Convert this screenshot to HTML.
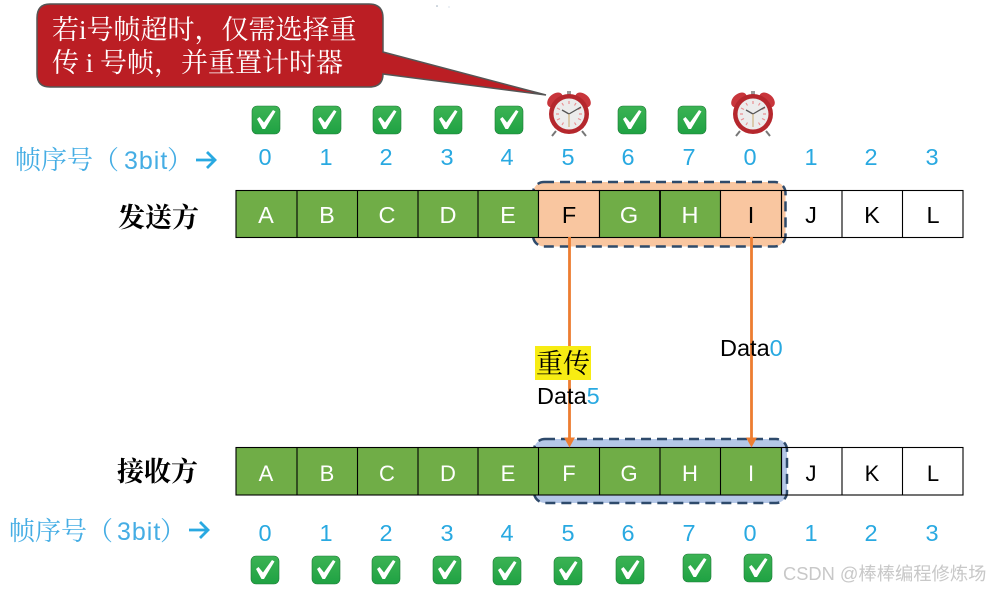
<!DOCTYPE html>
<html><head><meta charset="utf-8">
<style>
html,body{margin:0;padding:0;background:#fff;width:990px;height:591px;overflow:hidden}
svg{display:block}
.n{font:23.500px "Liberation Sans",sans-serif;fill:#29a9e1;text-anchor:middle}
.c{font:23.500px "Liberation Sans",sans-serif;text-anchor:middle}
.b{font:22px "Liberation Sans",sans-serif;text-anchor:middle}
.s{font-family:"Liberation Serif","Noto Serif CJK SC",serif}
.lb{font-size:26px;fill:#45ade4}
.d{font:23.500px "Liberation Sans",sans-serif;fill:#000}
</style></head><body>
<svg width="990" height="591" viewBox="0 0 990 591" xmlns="http://www.w3.org/2000/svg">
<defs>
<linearGradient id="gg" x1="0" y1="0" x2="0" y2="1"><stop offset="0" stop-color="#3cb354"/><stop offset="1" stop-color="#1fa243"/></linearGradient>
<g id="ck">
<rect x="-14" y="-14" width="28" height="28" rx="5" fill="url(#gg)" stroke="#1f7a38" stroke-width=".6"/>
<path d="M-9,-1 L-6.500,-3 L-2,2.500 L7,-10 L9.500,-8.500 L-1,9 L-3.500,9 Z" fill="#fff"/>
</g>
<g id="cl">
<path d="M-13,17 L-17,22 M13,17 L17,22" stroke="#777" stroke-width="2"/>
<ellipse cx="-14" cy="-14" rx="9" ry="6" transform="rotate(-42 -14 -14)" fill="#c8353b"/>
<ellipse cx="14" cy="-14" rx="9" ry="6" transform="rotate(42 14 -14)" fill="#c8353b"/>
<rect x="-2" y="-23" width="4" height="4" fill="#999"/>
<circle r="20" fill="#b5272d"/>
<circle r="15.500" fill="#ececec"/>
<path d="M0,-13 V-10 M7,-11 L5.500,-8.500 M12,-6 L9,-4.500 M13,0 H10 M12,6 L9,4.500 M7,11 L5.500,8.500 M-7,11 L-5.500,8.500 M-12,6 L-9,4.500 M-13,0 H-10 M-12,-6 L-9,-4.500 M-7,-11 L-5.500,-8.500" stroke="#ea9093" stroke-width="1.200"/>
<path d="M0,0 L12,-7 M0,0 L-7,-4" stroke="#555" stroke-width="1.300" fill="none"/>
<path d="M0,0 V13" stroke="#c9a86a" stroke-width="1"/>
</g>
</defs>

<circle cx="437" cy="6" r=".8" fill="#9ab"/><circle cx="449" cy="7" r=".6" fill="#bcd"/>

<!-- callout -->
<path d="M50,4 H369 Q383,4 383,18 V52 L546,95 L383,74 Q383,87 369,87 H50 Q37,87 37,74 V18 Q37,4 50,4 Z" fill="#bb1e24" stroke="#555" stroke-width="1.500"/>
<text class="s" x="52" y="39" font-size="27" fill="#fff">若i号帧超时，仅需选择重</text>
<text class="s" x="52" y="72" font-size="27" fill="#fff" xml:space="preserve">传 i 号帧，并重置计时器</text>

<!-- top status icons -->
<use href="#ck" x="266" y="120"/><use href="#ck" x="327" y="120"/><use href="#ck" x="387" y="120"/><use href="#ck" x="448" y="120"/><use href="#ck" x="509" y="120"/>
<use href="#cl" x="569" y="114"/>
<use href="#ck" x="632" y="120"/><use href="#ck" x="692" y="120"/>
<use href="#cl" x="753" y="114"/>

<!-- top numbers -->
<text class="n" x="265" y="165">0</text><text class="n" x="326" y="165">1</text><text class="n" x="386" y="165">2</text><text class="n" x="447" y="165">3</text><text class="n" x="507" y="165">4</text><text class="n" x="568" y="165">5</text><text class="n" x="628" y="165">6</text><text class="n" x="689" y="165">7</text><text class="n" x="750" y="165">0</text><text class="n" x="811" y="165">1</text><text class="n" x="871" y="165">2</text><text class="n" x="932" y="165">3</text>

<text class="s lb" x="15" y="169">帧序号（<tspan x="124" font-family="Liberation Sans" font-size="25" letter-spacing="1">3bit</tspan><tspan x="167">）</tspan></text>
<path d="M196,160 H215 M207,152 L215,160 L207,168" fill="none" stroke="#29a9e1" stroke-width="2.800"/>
<text class="s lb" x="9" y="540">帧序号（<tspan x="117" font-family="Liberation Sans" font-size="25" letter-spacing="1">3bit</tspan><tspan x="160">）</tspan></text>
<path d="M189,530 H208 M200,522 L208,530 L200,538" fill="none" stroke="#29a9e1" stroke-width="2.800"/>

<text class="s" x="118" y="227" font-size="27" font-weight="bold" fill="#000">发送方</text>
<text class="s" x="117" y="481" font-size="27" font-weight="bold" fill="#000">接收方</text>

<!-- top row -->
<rect x="533" y="182" width="252.500" height="64.500" rx="11" fill="#f9c6a0" stroke="#2e4a6b" stroke-width="2.500" stroke-dasharray="10 6"/>
<g stroke="#000" stroke-width="1.100">
<rect x="236" y="190.500" width="302.500" height="47" fill="#70ad47"/>
<rect x="538.500" y="190.500" width="61" height="47" fill="#f9c6a0"/>
<rect x="599.500" y="190.500" width="121" height="47" fill="#70ad47"/>
<rect x="720.500" y="190.500" width="61" height="47" fill="#f9c6a0"/>
<rect x="781.500" y="190.500" width="181.500" height="47" fill="none"/>
<path d="M297,190.500 V237.500 M357.500,190.500 V237.500 M418,190.500 V237.500 M478,190.500 V237.500 M842,190.500 V237.500 M902.500,190.500 V237.500" fill="none"/>
<path d="M660,190.500 V237.500" stroke-width="1.800"/>
</g>
<text class="c" x="266" y="223" fill="#fff">A</text><text class="c" x="327" y="223" fill="#fff">B</text><text class="c" x="387" y="223" fill="#fff">C</text><text class="c" x="448" y="223" fill="#fff">D</text><text class="c" x="508" y="223" fill="#fff">E</text><text class="c" x="569" y="223" fill="#000">F</text><text class="c" x="629" y="223" fill="#fff">G</text><text class="c" x="690" y="223" fill="#fff">H</text><text class="c" x="751" y="223" fill="#000">I</text><text class="c" x="811" y="223" fill="#000">J</text><text class="c" x="872" y="223" fill="#000">K</text><text class="c" x="933" y="223" fill="#000">L</text>

<!-- bottom row -->
<rect x="534" y="439" width="253" height="64" rx="11" fill="#b4c7e7" stroke="#2e4a6b" stroke-width="2.500" stroke-dasharray="10 6"/>
<g stroke="#000" stroke-width="1.100">
<rect x="236" y="447.500" width="545.500" height="47.500" fill="#70ad47"/>
<rect x="781.500" y="447.500" width="181.500" height="47.500" fill="none"/>
<path d="M297,447.500 V495 M357.500,447.500 V495 M418,447.500 V495 M478,447.500 V495 M538.500,447.500 V495 M599.500,447.500 V495 M660,447.500 V495 M720.500,447.500 V495 M842,447.500 V495 M902.500,447.500 V495" fill="none"/>
</g>
<text class="b" x="266" y="481" fill="#fff">A</text><text class="b" x="327" y="481" fill="#fff">B</text><text class="b" x="387" y="481" fill="#fff">C</text><text class="b" x="448" y="481" fill="#fff">D</text><text class="b" x="508" y="481" fill="#fff">E</text><text class="b" x="569" y="481" fill="#fff">F</text><text class="b" x="629" y="481" fill="#fff">G</text><text class="b" x="690" y="481" fill="#fff">H</text><text class="b" x="751" y="481" fill="#fff">I</text><text class="b" x="811" y="481" fill="#000">J</text><text class="b" x="872" y="481" fill="#000">K</text><text class="b" x="933" y="481" fill="#000">L</text>

<!-- arrows -->
<path d="M569.500,237 V440 M751.500,237 V440" stroke="#ed7d31" stroke-width="2.800"/>
<path d="M564,437.500 H575 L569.500,447.500 Z M746,437.500 H757 L751.500,447.500 Z" fill="#ed7d31"/>

<!-- labels -->
<rect x="535" y="346" width="56" height="34" fill="#f7ec13"/>
<text class="s" x="536" y="373" font-size="27" fill="#000">重传</text>
<text class="d" x="537" y="404">Data<tspan fill="#29a9e1">5</tspan></text>
<text class="d" x="720" y="356">Data<tspan fill="#29a9e1">0</tspan></text>

<!-- bottom numbers -->
<text class="n" x="265" y="541">0</text><text class="n" x="326" y="541">1</text><text class="n" x="386" y="541">2</text><text class="n" x="447" y="541">3</text><text class="n" x="507" y="541">4</text><text class="n" x="568" y="541">5</text><text class="n" x="628" y="541">6</text><text class="n" x="689" y="541">7</text><text class="n" x="750" y="541">0</text><text class="n" x="811" y="541">1</text><text class="n" x="871" y="541">2</text><text class="n" x="932" y="541">3</text>

<!-- bottom checks -->
<use href="#ck" x="265" y="570"/><use href="#ck" x="326" y="570"/><use href="#ck" x="386" y="570"/><use href="#ck" x="447" y="570"/><use href="#ck" x="507" y="571"/><use href="#ck" x="568" y="571"/><use href="#ck" x="630" y="570"/><use href="#ck" x="697" y="568"/><use href="#ck" x="758" y="568"/>

<!-- watermark -->
<text x="783" y="580" font-family="'Liberation Sans','Noto Sans CJK SC',sans-serif" font-size="18.300" fill="#c8c8c8">CSDN @棒棒编程修炼场</text>
</svg>
</body></html>
